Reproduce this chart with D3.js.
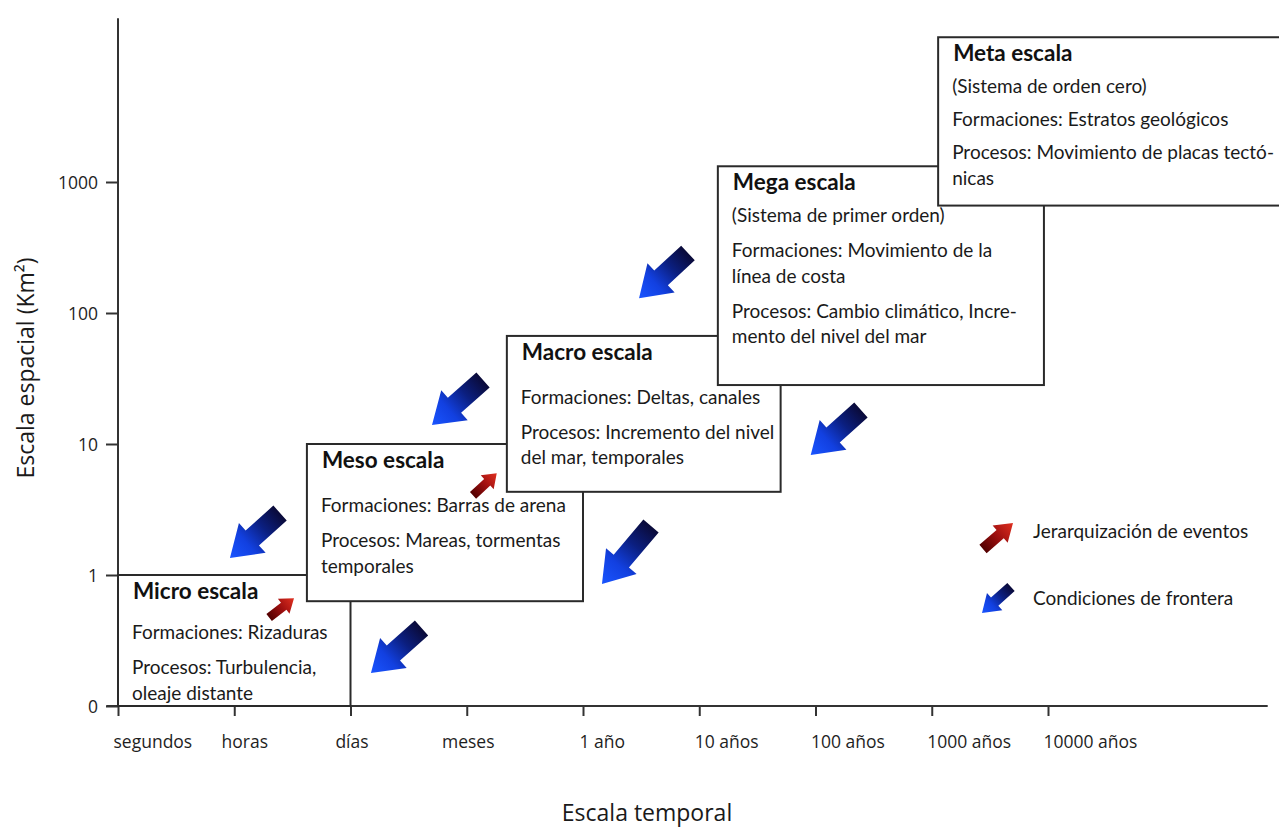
<!DOCTYPE html>
<html>
<head>
<meta charset="utf-8">
<script src="https://cdn.jsdelivr.net/npm/d3@7"></script>
<style>
  body { margin: 0; background: #fff; }
  svg { display: block; }
  .tick text { font-family: "Open Sans", sans-serif; font-size: 17.5px; fill: #1e1e1e; }
  .box-title { font-family: Lato, sans-serif; font-weight: 700; font-size: 22.5px; fill: #111; }
  .box-line { font-family: Lato, sans-serif; font-size: 19px; fill: #1a1a1a; }
  .axis-title { font-family: "Open Sans", sans-serif; font-size: 23px; fill: #1a1a1a; }
  .legend-text { font-family: Lato, sans-serif; font-size: 19px; fill: #1a1a1a; }
</style>
</head>
<body>
<div id="chart"></div>
<script>
// tick labels
const timeLabels = ["segundos", "horas", "días", "meses", "1 año", "10 años", "100 años", "1000 años", "10000 años"]
const areaLabels = ["0", "1", "10", "100", "1000"]

// scale boxes, in axis units (x: time step, y: area step)
const boxNames = ["Micro escala", "Meso escala", "Macro escala", "Mega escala", "Meta escala"]
const boxX0 = [0, 1.625, 3.345, 5.16, 7.055]
const boxX1 = [2, 4, 5.7, 7.965, 10.05]
const boxY0 = [0, 0.8, 1.635, 2.45, 3.82]
const boxY1 = [1, 2, 2.825, 4.12, 5.105]
const boxParagraphs = [
    [["Formaciones: Rizaduras"], ["Procesos: Turbulencia,", "oleaje distante"]],
    [["Formaciones: Barras de arena"], ["Procesos: Mareas, tormentas", "temporales"]],
    [["Formaciones: Deltas, canales"], ["Procesos: Incremento del nivel", "del mar, temporales"]],
    [["(Sistema de primer orden)"], ["Formaciones: Movimiento de la", "línea de costa"], ["Procesos: Cambio climático, Incre-", "mento del nivel del mar"]],
    [["(Sistema de orden cero)"], ["Formaciones: Estratos geológicos"], ["Procesos: Movimiento de placas tectó-", "nicas"]]
]

// "condiciones de frontera" arrows (tip and tail, axis units)
const boundaryTip = [[0.963, 1.130], [2.176, 0.252], [2.701, 2.145], [4.163, 0.931], [4.482, 3.112], [5.959, 1.916]]
const boundaryTail = [[1.394, 1.473], [2.611, 0.595], [3.140, 2.489], [4.585, 1.374], [4.903, 3.458], [6.391, 2.260]]
// "jerarquización de eventos" arrows
const hierarchyTip = [[1.514, 0.822], [3.258, 1.776]]
const hierarchyTail = [[1.300, 0.676], [3.054, 1.608]]

const legendLabels = ["Jerarquización de eventos", "Condiciones de frontera"]

const W = 1279, H = 827
const svg = d3.select("#chart").append("svg")
    .attr("width", W)
    .attr("height", H)

const x = d3.scaleLinear().domain([0, 8]).range([118, 1048])
const y = d3.scaleLinear().domain([0, 4]).range([706, 182])

const defs = svg.append("defs")

// x axis
const xAxis = svg.append("g")
    .attr("transform", "translate(0," + y(0) + ")")
    .call(d3.axisBottom(x)
        .tickValues(d3.range(timeLabels.length))
        .tickFormat(i => timeLabels[i])
        .tickSizeInner(10)
        .tickSizeOuter(0)
        .tickPadding(0))
xAxis.select(".domain").remove()
xAxis.selectAll(".tick line").attr("stroke", "#333").attr("stroke-width", 2)
const tickAnchor = ["start", "middle", "middle", "middle", "start", "start", "start", "start", "start"]
const tickShift = [-5, 10, 1, 1, -4, -5, -5, -5, -5]
xAxis.selectAll(".tick text")
    .attr("text-anchor", (d, i) => tickAnchor[i])
    .attr("dx", (d, i) => tickShift[i])
    .attr("y", 42)
    .attr("dy", 0)

svg.append("line")
    .attr("x1", x(-0.1)).attr("x2", x(9.89))
    .attr("y1", y(0)).attr("y2", y(0))
    .attr("stroke", "#333").attr("stroke-width", 2)

// y axis
const yAxis = svg.append("g")
    .attr("transform", "translate(" + x(0) + ",0)")
    .call(d3.axisLeft(y)
        .tickValues(d3.range(areaLabels.length))
        .tickFormat(j => areaLabels[j])
        .tickSizeInner(12)
        .tickSizeOuter(0)
        .tickPadding(8))
yAxis.select(".domain").remove()
yAxis.selectAll(".tick line").attr("stroke", "#333").attr("stroke-width", 2)
yAxis.selectAll(".tick text").attr("dy", "0.36em")

svg.append("line")
    .attr("x1", x(0)).attr("x2", x(0))
    .attr("y1", y(5.25)).attr("y2", y(0) + 1)
    .attr("stroke", "#333").attr("stroke-width", 2)

// axis titles
svg.append("text")
    .attr("class", "axis-title")
    .attr("text-anchor", "middle")
    .attr("transform", "translate(34,368) rotate(-90)")
    .text("Escala espacial (Km²)")

svg.append("text")
    .attr("class", "axis-title")
    .attr("text-anchor", "middle")
    .attr("x", 647)
    .attr("y", 821)
    .text("Escala temporal")

// boxes
const lineGap = 25.5, paraGap = 35
boxNames.forEach(function (name, b) {
    const left = x(boxX0[b]), right = x(boxX1[b])
    const top = y(boxY1[b]), bottom = y(boxY0[b])
    const g = svg.append("g")
    g.append("rect")
        .attr("x", left).attr("y", top)
        .attr("width", right - left).attr("height", bottom - top)
        .attr("fill", "#fff")
        .attr("stroke", "#2a2a2a")
        .attr("stroke-width", 2)
    let ty = top + 24
    g.append("text").attr("class", "box-title")
        .attr("x", left + 15).attr("y", ty)
        .text(name)
    const paras = boxParagraphs[b]
    paras.forEach(function (lines, p) {
        if (p === 0) {
            ty += lines[0].startsWith("(") ? 32 : (b === 0 ? 40 : 44)
        } else {
            ty += (b === 4 ? 33 : paraGap)
        }
        lines.forEach(function (line, l) {
            if (l > 0) ty += lineGap
            g.append("text").attr("class", "box-line")
                .attr("x", left + 14).attr("y", ty)
                .text(line)
        })
    })
})

// arrows
let gradCount = 0
function arrow(tip, tail, shaftW, headW, headL, colors) {
    const dx = tip[0] - tail[0], dy = tip[1] - tail[1]
    const len = Math.sqrt(dx * dx + dy * dy)
    const ux = dx / len, uy = dy / len
    const nx = -uy, ny = ux
    const neck = [tip[0] - ux * headL, tip[1] - uy * headL]
    const pts = [
        [tail[0] + nx * shaftW / 2, tail[1] + ny * shaftW / 2],
        [neck[0] + nx * shaftW / 2, neck[1] + ny * shaftW / 2],
        [neck[0] + nx * headW / 2, neck[1] + ny * headW / 2],
        tip,
        [neck[0] - nx * headW / 2, neck[1] - ny * headW / 2],
        [neck[0] - nx * shaftW / 2, neck[1] - ny * shaftW / 2],
        [tail[0] - nx * shaftW / 2, tail[1] - ny * shaftW / 2]
    ]
    const id = "grad" + (gradCount++)
    const grad = defs.append("linearGradient")
        .attr("id", id)
        .attr("gradientUnits", "userSpaceOnUse")
        .attr("x1", tail[0]).attr("y1", tail[1])
        .attr("x2", tip[0]).attr("y2", tip[1])
    colors.forEach(function (c, i) {
        grad.append("stop")
            .attr("offset", (i / (colors.length - 1) * 100) + "%")
            .attr("stop-color", c)
    })
    svg.append("polygon")
        .attr("points", pts.map(p => p.join(",")).join(" "))
        .attr("fill", "url(#" + id + ")")
}

const blueColors = ["#0a0a38", "#0b1f80", "#1240e0", "#1a55ff"]
const redColors = ["#520000", "#a01010", "#e03020"]

boundaryTip.forEach(function (t, i) {
    const tail = boundaryTail[i]
    arrow([x(t[0]), y(t[1])], [x(tail[0]), y(tail[1])], 20, 40, 30, blueColors)
})
hierarchyTip.forEach(function (t, i) {
    const tail = hierarchyTail[i]
    arrow([x(t[0]), y(t[1])], [x(tail[0]), y(tail[1])], 9, 19, 13, redColors)
})

// legend
arrow([1013, 523], [983, 549], 11, 23, 17, redColors)
arrow([982, 613], [1011, 587], 11, 23, 17, blueColors)
svg.append("text").attr("class", "legend-text")
    .attr("x", 1033).attr("y", 538)
    .text(legendLabels[0])
svg.append("text").attr("class", "legend-text")
    .attr("x", 1033).attr("y", 605)
    .text(legendLabels[1])
</script>
</body>
</html>
